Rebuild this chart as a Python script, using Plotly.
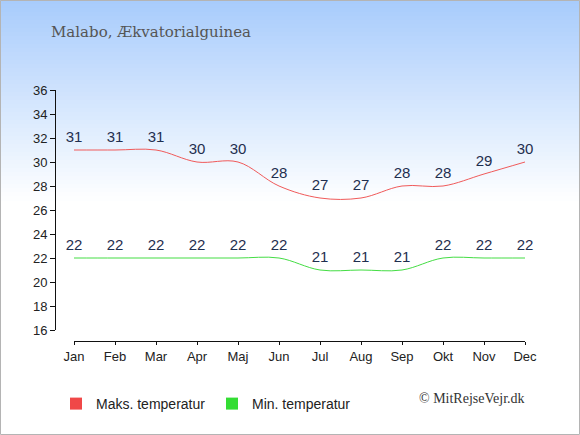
import plotly.graph_objects as go

months = ["Jan", "Feb", "Mar", "Apr", "Maj", "Jun", "Jul", "Aug", "Sep", "Okt", "Nov", "Dec"]
max_temp = [31, 31, 31, 30, 30, 28, 27, 27, 28, 28, 29, 30]
min_temp = [22, 22, 22, 22, 22, 22, 21, 21, 21, 22, 22, 22]
y_ticks = list(range(16, 37, 2))

W, H = 580, 435
L, R, T, B = 55, 55, 90, 94
PW, PH = W - L - R, H - T - B


def px(x):
    return (x - L) / PW


def py(y):
    return (H - B - y) / PH


label_font = dict(family="Liberation Sans", size=15, color="#1f2f4f")

fig = go.Figure()

fig.add_trace(go.Scatter(
    x=months, y=max_temp, mode="lines+markers+text", text=[str(v) for v in max_temp],
    textposition="top center", textfont=label_font,
    marker=dict(size=6, color="rgba(0,0,0,0)"),
    line=dict(color="#f05a5a", width=1, shape="spline"), cliponaxis=False, showlegend=False,
))
fig.add_trace(go.Scatter(
    x=months, y=min_temp, mode="lines+markers+text", text=[str(v) for v in min_temp],
    textposition="top center", textfont=label_font,
    marker=dict(size=6, color="rgba(0,0,0,0)"),
    line=dict(color="#44dd44", width=1, shape="spline"), cliponaxis=False, showlegend=False,
))

# legend entries
fig.add_trace(go.Scatter(x=[None], y=[None], mode="markers", name="Maks. temperatur",
                         marker=dict(symbol="square", size=11, color="#f04848")))
fig.add_trace(go.Scatter(x=[None], y=[None], mode="markers", name="Min. temperatur",
                         marker=dict(symbol="square", size=11, color="#33dd33")))

# background gradient
shapes = []
top = (168, 204, 252)
steps = 50
for i in range(steps):
    f = i / steps
    c = tuple(round(top[k] + (255 - top[k]) * f) for k in range(3))
    y0, y1 = i * 4, (i + 1) * 4 + 1
    shapes.append(dict(type="rect", xref="paper", yref="paper", layer="below",
                       x0=px(0), x1=px(W), y0=py(y1), y1=py(y0),
                       fillcolor="rgb(%d,%d,%d)" % c, line=dict(width=0)))
shapes.append(dict(type="rect", xref="paper", yref="paper", layer="above",
                   x0=px(0.5), x1=px(W - 0.5), y0=py(H - 0.5), y1=py(0.5),
                   fillcolor="rgba(0,0,0,0)", line=dict(color="#b4b4b4", width=1)))

fig.update_layout(
    width=W, height=H,
    margin=dict(l=L, r=R, t=T, b=B, pad=0),
    paper_bgcolor="white",
    plot_bgcolor="rgba(0,0,0,0)",
    shapes=shapes,
    font=dict(family="Liberation Sans", size=13, color="#222222"),
    xaxis=dict(
        domain=[px(74), 1], anchor="free", position=0, range=[0, 11],
        showgrid=False, zeroline=False, showline=True, linecolor="#111111", linewidth=1,
        ticks="outside", ticklen=3, tickcolor="#111111", tickfont=dict(size=13, color="#222222"),
    ),
    xaxis2=dict(
        domain=[px(74), 1], anchor="free", position=0, range=[0, 11], overlaying="x",
        tickvals=list(range(12)), showgrid=False, zeroline=False, showline=False,
        ticks="inside", ticklen=3, tickcolor="#111111", showticklabels=False,
    ),
    yaxis=dict(
        domain=[py(330), 1], anchor="free", position=0, range=[16, 36], tickvals=y_ticks,
        showgrid=False, zeroline=False, showline=True, linecolor="#111111", linewidth=1,
        ticks="outside", ticklen=5, tickcolor="#111111", tickfont=dict(size=13, color="#222222"),
    ),
    legend=dict(orientation="h", x=px(56), y=py(388), xanchor="left", yanchor="top",
                bgcolor="rgba(0,0,0,0)", font=dict(size=14, color="#222222"),
                entrywidth=111, itemsizing="constant"),
    annotations=[
        dict(text="Malabo, Ækvatorialguinea", xref="paper", yref="paper", x=px(49), y=py(32),
             xanchor="left", yanchor="middle", showarrow=False,
             font=dict(family="DejaVu Serif", size=15, color="#555555")),
        dict(text="© MitRejseVejr.dk", xref="paper", yref="paper", x=px(527), y=py(398),
             xanchor="right", yanchor="middle", showarrow=False,
             font=dict(family="Liberation Serif", size=14, color="#333333")),
    ],
)

fig.write_html("out.html", config={"displayModeBar": False},
               post_script="document.body.style.margin='0px';")
